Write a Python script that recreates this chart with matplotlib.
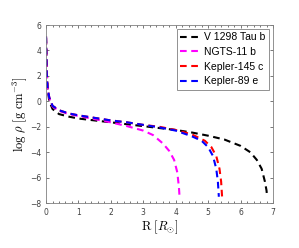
import numpy as np
import matplotlib.pyplot as plt
from matplotlib.ticker import MultipleLocator

plt.rcParams['mathtext.fontset'] = 'cm'

# radius [R_sun] and log density
r_tau = [0, 0.02, 0.05, 0.1, 0.2, 0.4, 0.7, 1.0, 1.5, 2.0, 2.5, 3.0, 3.5, 4.0,
         4.5, 5.0, 5.5, 6.0, 6.3, 6.5, 6.65, 6.75, 6.8, 6.82]
rho_tau = [5.0, 2.5, 1.0, 0.0, -0.6, -1.0, -1.2, -1.35, -1.5, -1.65, -1.8, -1.95,
           -2.1, -2.25, -2.45, -2.7, -3.0, -3.5, -4.0, -4.6, -5.3, -6.3, -7.0, -7.5]

r_ngts = [0, 0.02, 0.05, 0.1, 0.2, 0.4, 0.7, 1.0, 1.5, 2.0, 2.5, 3.0, 3.3, 3.6,
          3.8, 3.95, 4.05, 4.1, 4.12]
rho_ngts = [5.0, 2.3, 1.0, 0.25, -0.4, -0.75, -1.0, -1.15, -1.4, -1.65, -1.95,
            -2.3, -2.65, -3.3, -3.9, -4.6, -5.6, -6.8, -7.6]

r_k145 = [0, 0.02, 0.05, 0.1, 0.2, 0.4, 0.7, 1.0, 1.5, 2.0, 2.5, 3.0, 3.5, 4.0,
          4.5, 4.9, 5.1, 5.25, 5.35, 5.4, 5.43]
rho_k145 = [5.1, 2.2, 1.0, 0.3, -0.35, -0.7, -0.95, -1.1, -1.3, -1.5, -1.65,
            -1.85, -2.0, -2.25, -2.6, -3.1, -3.6, -4.3, -5.3, -6.3, -7.5]

r_k89 = [0, 0.02, 0.05, 0.1, 0.2, 0.4, 0.7, 1.0, 1.5, 2.0, 2.5, 3.0, 3.5, 4.0,
         4.5, 4.8, 5.0, 5.15, 5.25, 5.3, 5.33]
rho_k89 = [5.1, 2.2, 1.0, 0.3, -0.35, -0.7, -0.95, -1.1, -1.3, -1.5, -1.65,
           -1.85, -2.05, -2.3, -2.75, -3.1, -3.6, -4.3, -5.3, -6.3, -7.5]

names = ['V 1298 Tau b', 'NGTS-11 b', 'Kepler-145 c', 'Kepler-89 e']

fig = plt.figure(figsize=(2.99, 2.48), dpi=100)
ax = fig.add_axes([0.154, 0.181, 0.759, 0.718])

dash = (3.2, 2.2)
ax.plot(r_tau, rho_tau, color='k', lw=1.5, dashes=dash, label=names[0])
ax.plot(r_ngts, rho_ngts, color='magenta', lw=1.5, dashes=dash, label=names[1])
ax.plot(r_k145, rho_k145, color='red', lw=1.5, dashes=dash, label=names[2])
ax.plot(r_k89, rho_k89, color='blue', lw=1.5, dashes=dash, label=names[3])

ax.set_xlim(0, 7)
ax.set_ylim(-8, 6)
ax.set_xticks(range(0, 8))
ax.set_yticks(range(-8, 7, 2))
ax.xaxis.set_minor_locator(MultipleLocator(0.2))
ax.tick_params(which='both', direction='in', top=True, right=True,
               labelsize=5.5, colors='#404040', width=0.5)
ax.tick_params(which='major', length=2.5)
ax.tick_params(which='minor', length=1.3)
for s in ax.spines.values():
    s.set_color('#808080')
    s.set_linewidth(0.6)

ax.set_xlabel(r'$\mathrm{R}\ [R_{\odot}]$', fontsize=9, labelpad=1)
ax.set_ylabel(r'$\log\,\rho\ [\mathrm{g\ cm^{-3}}]$', fontsize=9, labelpad=1)

leg = ax.legend(loc='upper right', prop={'family': 'Liberation Sans', 'size': 7.5},
                frameon=True, fancybox=False, framealpha=1, edgecolor='#808080',
                handlelength=2.0, handletextpad=0.3, labelspacing=0.45,
                borderpad=0.3, borderaxespad=0.4)
leg.get_frame().set_linewidth(0.6)

fig.savefig('out.png', dpi=100)
